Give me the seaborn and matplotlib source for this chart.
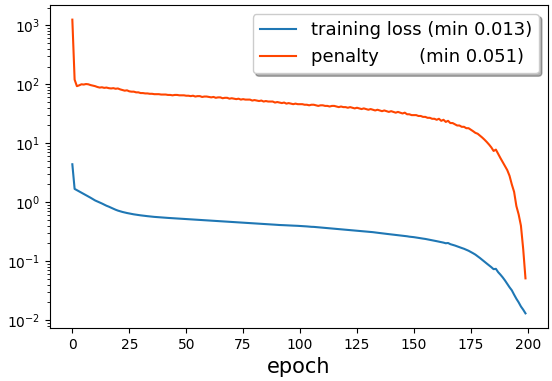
import numpy as np
import pandas as pd
import seaborn as sns
import matplotlib
matplotlib.use("Agg")
import matplotlib.pyplot as plt

# values (one per epoch, 0..199)
training_loss = [
    4.4, 1.68, 1.6, 1.52, 1.45, 1.38, 1.31, 1.25, 1.19, 1.13,
    1.07, 1.03, 0.99, 0.95, 0.91, 0.87, 0.84, 0.805, 0.775, 0.745,
    0.72, 0.7, 0.683, 0.668, 0.655, 0.643, 0.632, 0.622, 0.613, 0.605,
    0.598, 0.591, 0.585, 0.579, 0.573, 0.568, 0.563, 0.559, 0.555, 0.551,
    0.548, 0.545, 0.541, 0.538, 0.535, 0.532, 0.529, 0.527, 0.524, 0.521,
    0.518, 0.515, 0.512, 0.51, 0.506, 0.503, 0.5, 0.497, 0.495, 0.492,
    0.489, 0.486, 0.483, 0.481, 0.478, 0.475, 0.472, 0.47, 0.468, 0.465,
    0.462, 0.46, 0.458, 0.455, 0.452, 0.45, 0.447, 0.445, 0.442, 0.44,
    0.437, 0.435, 0.432, 0.43, 0.428, 0.425, 0.422, 0.42, 0.418, 0.415,
    0.412, 0.41, 0.409, 0.407, 0.405, 0.404, 0.402, 0.4, 0.399, 0.397,
    0.395, 0.393, 0.39, 0.388, 0.385, 0.382, 0.381, 0.378, 0.375, 0.372,
    0.369, 0.366, 0.363, 0.36, 0.357, 0.355, 0.352, 0.35, 0.347, 0.344,
    0.341, 0.338, 0.335, 0.332, 0.33, 0.328, 0.325, 0.322, 0.32, 0.317,
    0.315, 0.312, 0.31, 0.306, 0.303, 0.3, 0.297, 0.293, 0.29, 0.287,
    0.284, 0.281, 0.278, 0.275, 0.272, 0.27, 0.267, 0.264, 0.26, 0.258,
    0.255, 0.252, 0.248, 0.245, 0.241, 0.238, 0.234, 0.23, 0.226, 0.222,
    0.218, 0.214, 0.21, 0.206, 0.201, 0.203, 0.194, 0.189, 0.184, 0.178,
    0.172, 0.167, 0.162, 0.156, 0.15, 0.143, 0.136, 0.129, 0.121, 0.113,
    0.105, 0.098, 0.091, 0.085, 0.079, 0.073, 0.074, 0.065, 0.059, 0.053,
    0.047, 0.041, 0.036, 0.032, 0.027, 0.023, 0.02, 0.017, 0.015, 0.013,
]
penalty = [
    1250, 120, 93, 96, 100, 99, 101, 100, 97, 95,
    93, 90, 88, 89, 87, 88, 86, 85, 86, 84,
    85, 82, 80, 78, 79, 76, 75, 75, 73, 73,
    71, 71, 70, 70, 69, 69, 68, 68, 68, 67,
    67, 67, 66, 66, 65, 66, 66, 65, 65, 65,
    64, 64, 63, 64, 62, 63, 63, 61, 62, 62,
    61, 60, 61, 59, 60, 60, 58, 59, 59, 57,
    58, 57, 56, 57, 55, 56, 55, 55, 55, 53,
    54, 53, 52, 53, 51, 52, 51, 51, 51, 49,
    50, 49, 48, 49, 47, 48, 47, 46, 47, 46,
    46, 46, 45, 45, 44, 45, 45, 44, 43, 44,
    44, 43, 43, 42, 43, 43, 42, 41, 42, 41,
    41, 40, 41, 40, 39, 40, 39, 38, 39, 38,
    37, 38, 37, 36, 37, 36, 35, 36, 35, 34,
    35, 34, 33, 34, 33, 32, 33, 31, 31, 30,
    30, 30, 29, 29, 28, 28, 27, 27, 26, 26,
    25, 26, 24, 25, 23, 24, 22, 22, 21, 20,
    20, 19, 19, 18, 18, 17, 16, 15, 14.5, 13.5,
    12.5, 11.5, 10.5, 9.5, 8.5, 7.4, 7.8, 6.6, 5.6, 4.8,
    4.1, 3.5, 2.8, 2.0, 1.5, 0.86, 0.62, 0.4, 0.16, 0.051,
]
epochs = list(range(len(penalty)))

loss_label = f"{'training loss':<13} (min {min(training_loss):.3f})"
pen_label = f"{'penalty':<13} (min {min(penalty):.3f})"

fig, ax = plt.subplots(figsize=(5.52, 3.81), dpi=100)
sns.lineplot(x=epochs, y=training_loss, ax=ax, color="#1f77b4", label=loss_label, linewidth=1.5)
sns.lineplot(x=epochs, y=penalty, ax=ax, color="orangered", label=pen_label, linewidth=1.5)
ax.set_yscale("log")
ax.set_xlabel("epoch", fontsize=15)
ax.set_ylabel("")
ax.tick_params(labelsize=10)
ax.legend(loc="upper right", fontsize=13, shadow={"color": "k", "alpha": 0.3})
fig.subplots_adjust(left=0.09, right=0.993, top=0.987, bottom=0.139)
fig.savefig("out.png")
